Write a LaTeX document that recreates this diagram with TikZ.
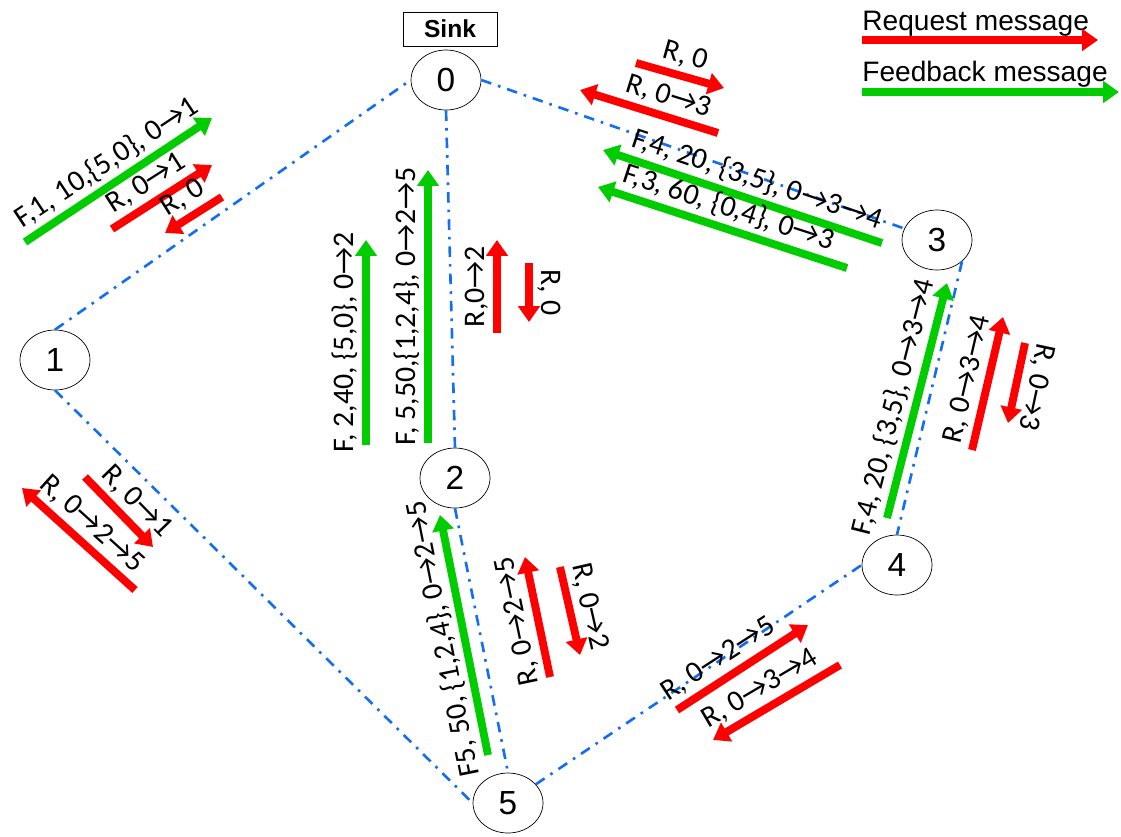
\documentclass[tikz,border=0pt]{standalone}
\usepackage{fontspec}
\setmainfont{Carlito}
\newfontfamily\arialfont{Liberation Sans}
\usetikzlibrary{arrows.meta,shapes.geometric}
\definecolor{linkblue}{RGB}{20,110,240}
\definecolor{reqred}{RGB}{255,0,0}
\definecolor{fbgreen}{RGB}{0,204,0}
\tikzset{
  site/.style={ellipse, draw, minimum width=1.4cm, minimum height=1.2cm, inner sep=0pt,
    font=\arialfont\fontsize{19}{19}\selectfont},
  link/.style={draw=linkblue, line width=1.5pt, dash pattern=on 6pt off 4pt on 1.5pt off 4pt},
  msg/.style={line width=4.5pt, -{Triangle[length=9pt,width=12pt]}},
  req/.style={msg, color=reqred},
  fb/.style={msg, color=fbgreen},
  tag/.style={text=black, inner sep=1pt, font=\fontsize{17}{17}\selectfont}
}

\begin{document}
\begin{tikzpicture}[x=0.02cm, y=-0.02cm]
  \useasboundingbox (0,0) rectangle (1121,836);
  \node [draw, minimum width=1.88cm, minimum height=0.68cm, font=\arialfont\bfseries\fontsize{14}{14}\selectfont] (sink) at (450,29) {Sink};
  \node [site] (N0) at (446,80) {0};
  \node [site] (N1) at (55,360) {1};
  \node [site] (N2) at (455,478) {2};
  \node [site] (N3) at (937,240) {3};
  \node [site] (N4) at (897,565) {4};
  \node [site] (N5) at (508,803) {5};
  \draw [link] (N1.north) -- (N0.west);
  \draw [link] (N0.south) -- (N2.north);
  \draw [link] (N0.east) -- (N3);
  \draw [link] (N1.south) -- (N5.west);
  \draw [link] (N2.south) -- (N5.north);
  \draw [link] (N3.south east) -- (N4.north);
  \draw [link] (N5) -- (N4.west);

  \node [anchor=west, inner sep=0pt, font=\arialfont\fontsize{16}{16}\selectfont] (reqtxt) at (862,24) {Request message};
  \node [anchor=west, inner sep=0pt, font=\arialfont\fontsize{16}{16}\selectfont] (fbtxt) at (862,74) {Feedback message};
  \coordinate (lrs) at (862,40); \coordinate (lre) at (1098,40);
  \coordinate (lfs) at (862,92); \coordinate (lfe) at (1119,92);
  \draw [req] (lrs) -- (lre);
  \draw [fb] (lfs) -- (lfe);

  \coordinate (f01s) at (25,242);  \coordinate (f01e) at (212,118);
  \coordinate (r01s) at (112,229); \coordinate (r01e) at (212,165);
  \coordinate (r10s) at (222,197); \coordinate (r10e) at (165,233);
  \draw [fb] (f01s) -- node [tag, sloped, above=1.5pt] {F,1, 10,\{5,0\}, 0→1} (f01e);
  \draw [req] (r01s) -- node [tag, sloped, above=1.5pt, pos=0.45] {R, 0→1} (r01e);
  \draw [req] (r10s) -- node [tag, sloped, above=1.5pt] {R, 0} (r10e);

  \coordinate (f02s) at (366,445); \coordinate (f02e) at (366,240);
  \coordinate (f25s) at (428,443); \coordinate (f25e) at (428,170);
  \coordinate (r02s) at (497,333); \coordinate (r02e) at (497,240);
  \coordinate (r20s) at (529,263); \coordinate (r20e) at (529,322);
  \draw [fb] (f02s) -- node [tag, sloped, above=1.5pt] {F, 2,40, \{5,0\}, 0→2} (f02e);
  \draw [fb] (f25s) -- node [tag, sloped, above=1.5pt] {F, 5,50,\{1,2,4\}, 0→2→5} (f25e);
  \draw [req] (r02s) -- node [tag, sloped, above=1.5pt] {R,0→2} (r02e);
  \draw [req] (r20s) -- node [tag, sloped, allow upside down, above=1.5pt] {R, 0} (r20e);

  \coordinate (r30s) at (636,63);  \coordinate (r30e) at (724,88);
  \coordinate (r03s) at (718,133); \coordinate (r03e) at (580,90);
  \coordinate (f34s) at (882,243); \coordinate (f34e) at (603,150);
  \coordinate (f3s) at (847,268);  \coordinate (f3e) at (598,187);
  \draw [req] (r30s) -- node [tag, sloped, above=1.5pt] {R, 0} (r30e);
  \draw [req] (r03s) -- node [tag, sloped, above=1.5pt, pos=0.4] {R, 0→3} (r03e);
  \draw [fb] (f34s) -- node [tag, sloped, above=1.5pt, pos=0.47] {F,4, 20, \{3,5\}, 0→3→4} (f34e);
  \draw [fb] (f3s) -- node [tag, sloped, above=1.5pt] {F,3, 60, \{0,4\}, 0→3} (f3e);

  \coordinate (f4s) at (887,518);  \coordinate (f4e) at (947,283);
  \coordinate (r34s) at (972,450); \coordinate (r34e) at (1003,317);
  \coordinate (r43s) at (1025,343); \coordinate (r43e) at (1008,423);
  \draw [fb] (f4s) -- node [tag, sloped, above=1.5pt, pos=0.45] {F,4, 20, \{3,5\}, 0→3→4} (f4e);
  \draw [req] (r34s) -- node [tag, sloped, above=1.5pt] {R, 0→3→4} (r34e);
  \draw [req] (r43s) -- node [tag, sloped, allow upside down, above=1.5pt] {R, 0→3} (r43e);

  \coordinate (r11s) at (85,477);  \coordinate (r11e) at (153,547);
  \coordinate (r15s) at (135,590); \coordinate (r15e) at (22,488);
  \draw [req] (r11s) -- node [tag, sloped, above=1.5pt, pos=0.55] {R, 0→1} (r11e);
  \draw [req] (r15s) -- node [tag, sloped, above=1.5pt] {R, 0→2→5} (r15e);

  \coordinate (f5s) at (488,755);  \coordinate (f5e) at (440,515);
  \coordinate (r25s) at (550,677); \coordinate (r25e) at (525,557);
  \coordinate (r52s) at (560,567); \coordinate (r52e) at (580,655);
  \draw [fb] (f5s) -- node [tag, sloped, allow upside down, above=1.5pt] {F5, 50, \{1,2,4\}, 0→2→5} (f5e);
  \draw [req] (r25s) -- node [tag, sloped, allow upside down, above=1.5pt] {R, 0→2→5} (r25e);
  \draw [req] (r52s) -- node [tag, sloped, above=1.5pt] {R, 0→2} (r52e);

  \coordinate (r55s) at (677,710); \coordinate (r55e) at (808,625);
  \coordinate (r44s) at (840,665); \coordinate (r44e) at (713,740);
  \draw [req] (r55s) -- node [tag, sloped, above=1.5pt, pos=0.4] {R, 0→2→5} (r55e);
  \draw [req] (r44s) -- node [tag, sloped, above=1.5pt, pos=0.55] {R, 0→3→4} (r44e);
\end{tikzpicture}
\end{document}
